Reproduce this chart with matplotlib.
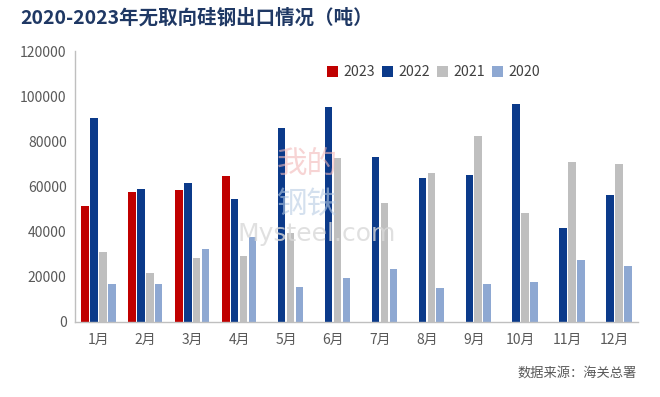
import numpy as np
import matplotlib
matplotlib.use("Agg")
import matplotlib.pyplot as plt

plt.rcParams["font.family"] = ["Noto Sans CJK SC", "DejaVu Sans"]

months = ["1月", "2月", "3月", "4月", "5月", "6月", "7月", "8月", "9月", "10月", "11月", "12月"]
y2023 = [51500, 57400, 58400, 64800, np.nan, np.nan, np.nan, np.nan, np.nan, np.nan, np.nan, np.nan]
y2022 = [90500, 58900, 61500, 54500, 86000, 95000, 73200, 63600, 65100, 96400, 41800, 56200]
y2021 = [31100, 21800, 28300, 29200, 39500, 72500, 52500, 65800, 82400, 48400, 70800, 69800]
y2020 = [16700, 16800, 32300, 37800, 15600, 19500, 23300, 15200, 16700, 17600, 27600, 24900]
series = [("2023", y2023, "#C00000"), ("2022", y2022, "#0B3A8A"),
          ("2021", y2021, "#BFBFBF"), ("2020", y2020, "#8EA8D2")]

fig = plt.figure(figsize=(6.6, 3.97), dpi=100)
ax = fig.add_axes([0.1136, 0.189, 0.853, 0.6825])

x = np.arange(len(months))
step = 0.19
width = 0.16
for i, (label, vals, color) in enumerate(series):
    ax.bar(x + (i - 1.5) * step, vals, width, color=color, label=label, zorder=2)

ax.set_xlim(-0.5, 11.5)
ax.set_ylim(0, 120000)
ax.set_yticks(np.arange(0, 120001, 20000))
ax.set_xticks(x)
ax.set_xticklabels(months)
ax.tick_params(axis="both", length=0, colors="#595959", labelsize=10)
ax.tick_params(axis="x", pad=8)
ax.tick_params(axis="y", pad=6)
for s in ["top", "right"]:
    ax.spines[s].set_visible(False)
for s in ["left", "bottom"]:
    ax.spines[s].set_color("#BFBFBF")
    ax.spines[s].set_linewidth(1)

leg = fig.legend(loc="center", bbox_to_anchor=(0.657, 0.818), ncol=4, frameon=False,
                 handlelength=0.8, handleheight=0.8, handletextpad=0.35,
                 columnspacing=0.5, fontsize=10.2)
for t in leg.get_texts():
    t.set_color("#404040")

# watermark
fig.text(0.48, 0.41, "Mysteel.com", fontsize=18, color="#D9D9D9", alpha=0.8,
         ha="center", va="center", family="DejaVu Sans", zorder=0)
fig.text(0.465, 0.585, "我的", fontsize=22, color="#F2B8B8", alpha=0.6,
         ha="center", va="center", zorder=0)
fig.text(0.465, 0.485, "钢铁", fontsize=22, color="#B8CCE4", alpha=0.6,
         ha="center", va="center", zorder=0)

fig.text(0.03, 0.955, "2020-2023年无取向硅钢出口情况（吨）", fontsize=14,
         fontweight="bold", color="#1F3864", ha="left", va="center")
fig.text(0.965, 0.06, "数据来源：海关总署", fontsize=9.5, color="#595959",
         ha="right", va="center")

fig.savefig("out.png", dpi=100)
